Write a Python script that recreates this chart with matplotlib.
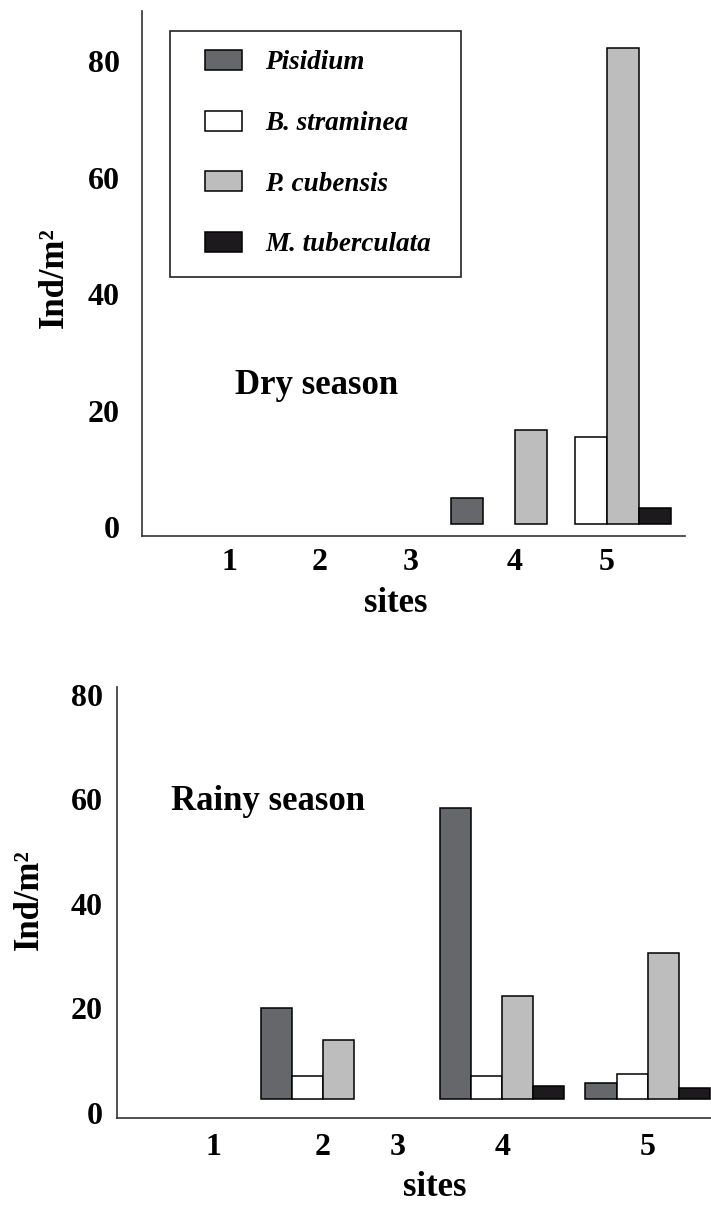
import numpy as np
import matplotlib
matplotlib.use("Agg")
import matplotlib.pyplot as plt
from matplotlib.patches import Rectangle

plt.rcParams['font.family'] = ['Liberation Serif', 'DejaVu Serif']
plt.rcParams['font.weight'] = 'bold'

# data (Ind/m2 per site)
sites = ['1', '2', '3', '4', '5']
species = ['Pisidium', 'B. straminea', 'P. cubensis', 'M. tuberculata']

dry_pisidium = [0, 0, 0, 5.0, 0]
dry_straminea = [0, 0, 0, 0, 15.5]
dry_cubensis = [0, 0, 0, 16.7, 82.2]
dry_tuberculata = [0, 0, 0, 0, 3.3]

rainy_pisidium = [0, 20.0, 0, 58.3, 5.8]
rainy_straminea = [0, 7.0, 0, 7.0, 7.4]
rainy_cubensis = [0, 13.9, 0, 22.3, 30.7]
rainy_tuberculata = [0, 0, 0, 5.1, 4.8]

yticks = [0, 20, 40, 60, 80]

# styling / layout
colors = ['#65676b', '#ffffff', '#bdbdbd', '#1c1a1c']
dry_site_x = [1, 2, 3, 4.14, 5.15]
rainy_site_x = [1, 2, 2.68, 3.63, 4.95]

W, H = 711, 1205
fig = plt.figure(figsize=(W / 100, H / 100), dpi=100)


def px_axes(l, t, r, b):
    return fig.add_axes([l / W, 1 - b / H, (r - l) / W, (b - t) / H])


def draw_panel(ax, site_x, series, width, base, xlim, ylim, xpad, ypad):
    site_x = np.asarray(site_x, dtype=float)
    offsets = (np.arange(4) - 1.5) * width
    handles = []
    for i, vals in enumerate(series):
        vals = np.asarray(vals, dtype=float)
        keep = vals > 0
        h = ax.bar(site_x[keep] + offsets[i], vals[keep] - base, width=width,
                   bottom=base, color=colors[i], edgecolor='black',
                   linewidth=1.1, label=species[i])
        handles.append(h)
    ax.set_xlim(*xlim)
    ax.set_ylim(*ylim)
    ax.set_xticks(site_x)
    ax.set_xticklabels(sites)
    ax.set_yticks(yticks)
    for s in ['top', 'right']:
        ax.spines[s].set_visible(False)
    for s in ['left', 'bottom']:
        ax.spines[s].set_linewidth(1.2)
        ax.spines[s].set_color('#333333')
    ax.tick_params(axis='x', length=0, pad=xpad, labelsize=23)
    ax.tick_params(axis='y', length=0, pad=ypad, labelsize=23)
    return handles


# dry season
ax1 = px_axes(142, 11, 685, 536)
hs = draw_panel(ax1, dry_site_x,
                [dry_pisidium, dry_straminea, dry_cubensis, dry_tuberculata],
                0.352, 0.5, (0.044, 6.011), (-1.55, 88.6), 9, 16)

leg = ax1.legend(handles=hs, loc='upper left',
                 bbox_to_anchor=((205 - 142) / 543, (536 - 50) / 525),
                 frameon=False, borderpad=0, borderaxespad=0,
                 handlelength=1.36, handleheight=0.76, handletextpad=0.87,
                 labelspacing=1.3,
                 prop={'family': 'Liberation Serif', 'weight': 'bold',
                       'style': 'italic', 'size': 19.5})
ax1.add_patch(Rectangle(((170 - 142) / 543, (536 - 277) / 525),
                        (461 - 170) / 543, (277 - 31) / 525,
                        transform=ax1.transAxes, fill=False,
                        edgecolor='#222222', linewidth=1.2, clip_on=False))

# rainy season
ax2 = px_axes(117, 687, 711, 1118)
draw_panel(ax2, rainy_site_x,
           [rainy_pisidium, rainy_straminea, rainy_cubensis, rainy_tuberculata],
           0.282, 2.7, (0.127, 5.527), (-0.96, 81.5), 11, 10)

txt = dict(fontsize=25, fontweight='bold', ha='center', va='center')
fig.text(317 / W, 1 - 386 / H, 'Dry season', **txt)
fig.text(268 / W, 1 - 802 / H, 'Rainy season', **txt)
fig.text(396 / W, 1 - 603 / H, 'sites', **txt)
fig.text(435 / W, 1 - 1188 / H, 'sites', **txt)
fig.text(54 / W, 1 - 278 / H, 'Ind/m²', rotation=90, **txt)
fig.text(29 / W, 1 - 900 / H, 'Ind/m²', rotation=90, **txt)

fig.savefig('out.png', dpi=100)
